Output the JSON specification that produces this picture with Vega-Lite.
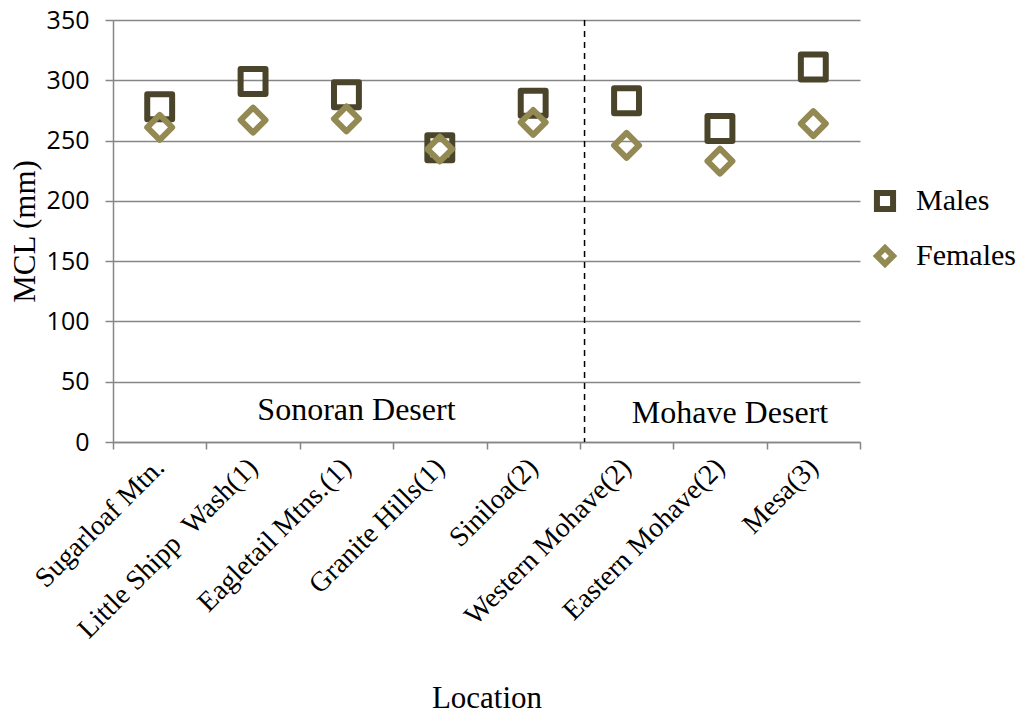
{
  "$schema": "https://vega.github.io/schema/vega-lite/v6.json",
  "autosize": {"type": "none"},
  "width": 747,
  "height": 422,
  "padding": {"left": 113, "top": 20, "right": 168, "bottom": 271},
  "background": "white",
  "config": {
    "view": {"stroke": null},
    "font": "Liberation Serif"
  },
  "layer": [
    {
      "data": {
        "values": [
          {"loc": "Sugarloaf Mtn.", "sex": "Males", "mcl": 278},
          {"loc": "Little Shipp \u00a0Wash(1)", "sex": "Males", "mcl": 299},
          {"loc": "Eagletail Mtns.(1)", "sex": "Males", "mcl": 288},
          {"loc": "Granite Hills(1)", "sex": "Males", "mcl": 244},
          {"loc": "Siniloa(2)", "sex": "Males", "mcl": 281},
          {"loc": "Western Mohave(2)", "sex": "Males", "mcl": 283},
          {"loc": "Eastern Mohave(2)", "sex": "Males", "mcl": 260},
          {"loc": "Mesa(3)", "sex": "Males", "mcl": 311},
          {"loc": "Sugarloaf Mtn.", "sex": "Females", "mcl": 261},
          {"loc": "Little Shipp \u00a0Wash(1)", "sex": "Females", "mcl": 267},
          {"loc": "Eagletail Mtns.(1)", "sex": "Females", "mcl": 268},
          {"loc": "Granite Hills(1)", "sex": "Females", "mcl": 243},
          {"loc": "Siniloa(2)", "sex": "Females", "mcl": 265},
          {"loc": "Western Mohave(2)", "sex": "Females", "mcl": 246},
          {"loc": "Eastern Mohave(2)", "sex": "Females", "mcl": 233},
          {"loc": "Mesa(3)", "sex": "Females", "mcl": 264}
        ]
      },
      "mark": {"type": "point", "filled": false, "strokeWidth": 6, "size": 620, "opacity": 1, "strokeJoin": "round"},
      "encoding": {
        "x": {
          "field": "loc", "type": "nominal",
          "scale": {"type": "band", "paddingInner": 0, "paddingOuter": 0,
            "domain": ["Sugarloaf Mtn.", "Little Shipp \u00a0Wash(1)", "Eagletail Mtns.(1)", "Granite Hills(1)", "Siniloa(2)", "Western Mohave(2)", "Eastern Mohave(2)", "Mesa(3)"]},
          "axis": {
            "title": "Location",
            "titleFont": "Liberation Serif", "titleFontSize": 31, "titleFontWeight": "normal", "titleColor": "black",
            "titleBaseline": "alphabetic", "titleY": 265,
            "labelAngle": -45, "labelAlign": "right", "labelBaseline": "middle",
            "labelFont": "Liberation Serif", "labelFontSize": 28, "labelColor": "black",
            "labelPadding": 14, "labelLimit": 400,
            "tickBand": "extent", "tickSize": 7, "tickColor": "#868686", "tickWidth": 1.5,
            "domainColor": "#868686", "domainWidth": 1.5,
            "grid": false
          }
        },
        "y": {
          "field": "mcl", "type": "quantitative",
          "scale": {"domain": [0, 350], "nice": false},
          "axis": {
            "title": "MCL (mm)",
            "titleFont": "Liberation Serif", "titleFontSize": 31, "titleFontWeight": "normal", "titleColor": "black",
            "titleBaseline": "alphabetic", "titleX": -79, "titleY": 211,
            "values": [0, 50, 100, 150, 200, 250, 300, 350],
            "labelFont": "Open Sans", "labelFontSize": 25, "labelColor": "black", "labelPadding": 16,
            "tickSize": 8, "tickColor": "#868686", "tickWidth": 1.5,
            "domainColor": "#868686", "domainWidth": 1.5,
            "grid": true, "gridColor": "#868686", "gridWidth": 1.5
          }
        },
        "color": {
          "field": "sex", "type": "nominal",
          "scale": {"domain": ["Males", "Females"], "range": ["#4A452A", "#938953"]},
          "legend": {
            "title": null, "orient": "none", "legendX": 757, "legendY": 166,
            "labelFont": "Liberation Serif", "labelFontSize": 30, "labelColor": "black",
            "symbolSize": 260, "symbolStrokeWidth": 6, "rowPadding": 13, "labelOffset": 16
          }
        },
        "shape": {
          "field": "sex", "type": "nominal",
          "scale": {"domain": ["Males", "Females"], "range": ["square", "diamond"]}
        },
        "order": {"field": "sex", "sort": "descending"}
      }
    },
    {
      "data": {"values": [{"loc": "Western Mohave(2)"}]},
      "mark": {"type": "rule", "color": "black", "strokeWidth": 1.5, "strokeDash": [6, 5]},
      "encoding": {
        "x": {"field": "loc", "type": "nominal", "bandPosition": 0.05}
      }
    },
    {
      "data": {
        "values": [
          {"loc": "Eagletail Mtns.(1)", "v": 18, "label": "Sonoran Desert"},
          {"loc": "Eastern Mohave(2)", "v": 16, "label": "Mohave Desert"}
        ]
      },
      "mark": {"type": "text", "font": "Liberation Serif", "fontSize": 32, "color": "black", "baseline": "alphabetic", "align": "center", "dx": 10},
      "encoding": {
        "x": {"field": "loc", "type": "nominal"},
        "y": {"field": "v", "type": "quantitative"},
        "text": {"field": "label"}
      }
    }
  ]
}
